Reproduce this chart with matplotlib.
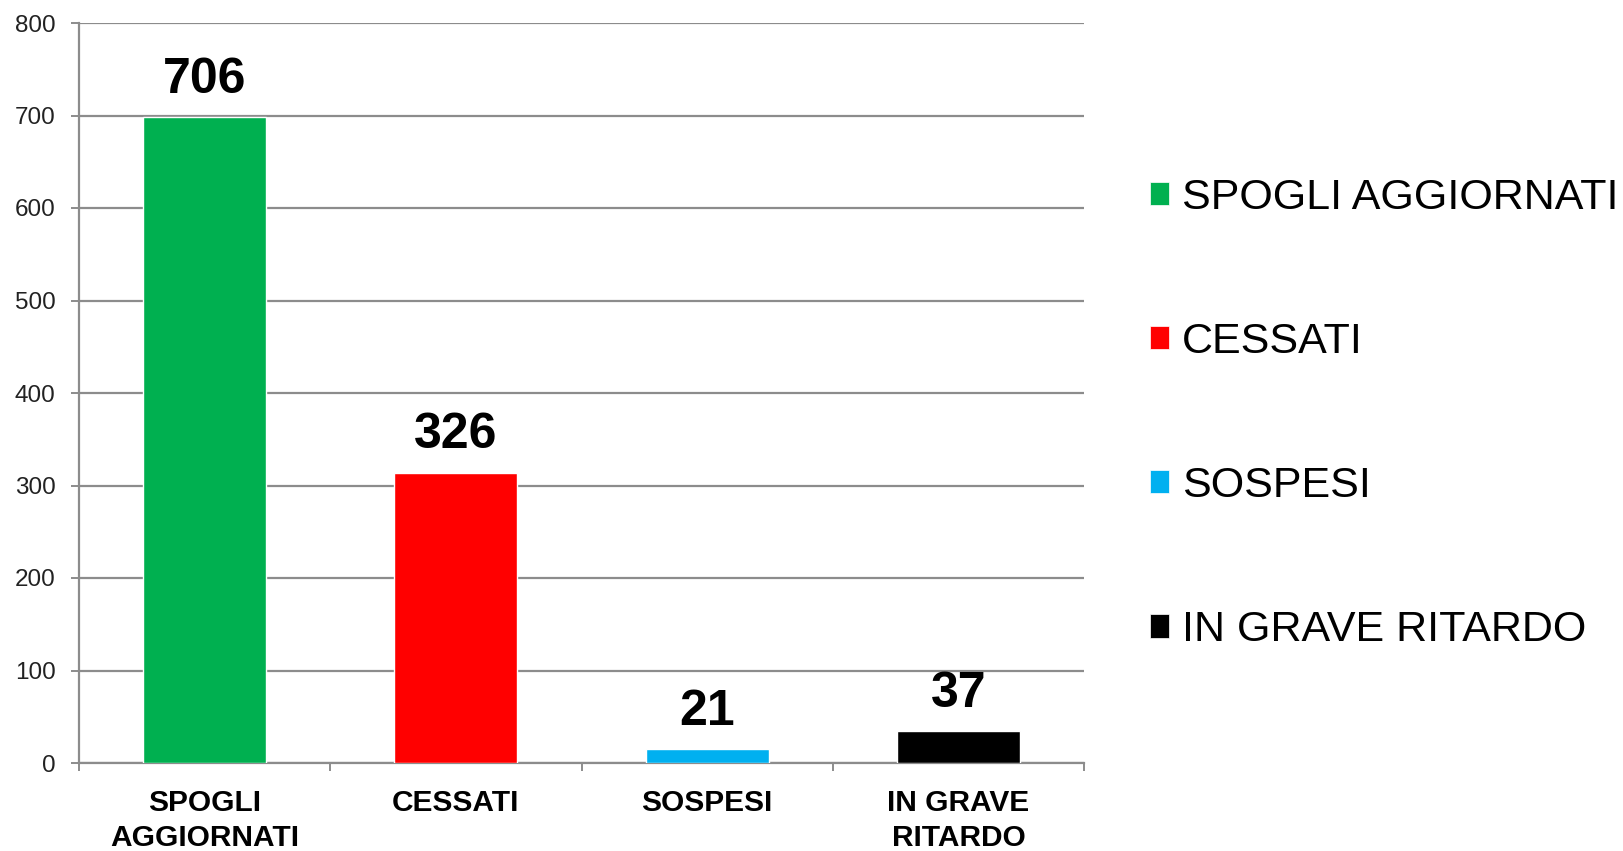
import matplotlib
matplotlib.use("Agg")
import matplotlib.pyplot as plt
from matplotlib.patches import Patch

categories = ["SPOGLI\nAGGIORNATI", "CESSATI", "SOSPESI", "IN GRAVE\nRITARDO"]
legend_labels = ["SPOGLI AGGIORNATI", "CESSATI", "SOSPESI", "IN GRAVE RITARDO"]
bar_heights = [698, 314, 15, 35]
value_labels = ["706", "326", "21", "37"]
colors = ["#00B050", "#FF0000", "#00B0F0", "#000000"]
yticks = [0, 100, 200, 300, 400, 500, 600, 700, 800]

plt.rcParams['font.family'] = ['Liberation Sans', 'DejaVu Sans']
GRAY = "#8c8c8c"

fig = plt.figure(figsize=(16.23, 8.51), dpi=100)
ax = fig.add_axes([79/1623, 1 - 763/851, (1084-79)/1623, (763-23)/851])

x = list(range(len(categories)))
bars = ax.bar(x, bar_heights, width=0.49, color=colors, edgecolor="white", linewidth=1.0, zorder=3)

for xi, h, lab in zip(x, bar_heights, value_labels):
    ax.text(xi, h + 26, lab, ha="center", va="baseline", fontsize=36, fontweight="bold", color="black", zorder=4)

ax.set_xlim(-0.5, len(categories) - 0.5)
ax.set_ylim(0, 800)
ax.set_yticks(yticks)
ax.set_yticklabels([str(v) for v in yticks], fontsize=17.5, color="#222222")
ax.set_xticks(x)
ax.set_xticklabels(categories, fontsize=21.5, fontweight="bold", color="black", linespacing=1.28)
ax.tick_params(axis="x", length=0, pad=19)
ax.tick_params(axis="y", length=6, width=1.4, color=GRAY, pad=11)

# category separator ticks on x axis
ax.set_xticks([i - 0.5 for i in range(len(categories) + 1)], minor=True)
ax.tick_params(axis="x", which="minor", length=6, width=1.4, color=GRAY)

ax.yaxis.grid(True, color=GRAY, linewidth=1.6, zorder=0)
ax.set_axisbelow(True)
for s in ["top", "right"]:
    ax.spines[s].set_visible(False)
for s in ["left", "bottom"]:
    ax.spines[s].set_color(GRAY)
    ax.spines[s].set_linewidth(1.6)

handles = [Patch(facecolor=c, edgecolor="white", linewidth=0.5) for c in colors]
fig.legend(handles, legend_labels, loc="center left", bbox_to_anchor=(1150/1623, 1 - 414/851),
           frameon=False, fontsize=31, handlelength=0.45, handleheight=0.45,
           handletextpad=0.3, labelspacing=2.42, borderpad=0, borderaxespad=0)

fig.savefig("out.png", dpi=100)
